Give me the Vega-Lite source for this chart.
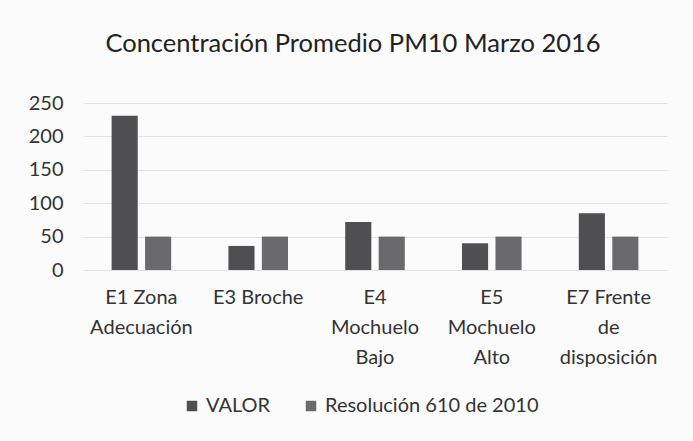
{
  "$schema": "https://vega.github.io/schema/vega-lite/v6.json",
  "autosize": {"type": "none"},
  "width": 584,
  "height": 167,
  "padding": {"left": 83, "top": 103, "right": 26, "bottom": 171},
  "background": "#fbfbfb",
  "title": {"text": "Concentración Promedio PM10 Marzo 2016", "font": "Lato", "fontSize": 25.5, "fontWeight": "normal", "color": "#222", "offset": 36, "anchor": "middle", "dx": -22},
  "data": {"values": [
    {"estacion": "E1 Zona Adecuación", "serie": "VALOR", "valor": 231},
    {"estacion": "E1 Zona Adecuación", "serie": "Resolución 610 de 2010", "valor": 50},
    {"estacion": "E3 Broche", "serie": "VALOR", "valor": 36},
    {"estacion": "E3 Broche", "serie": "Resolución 610 de 2010", "valor": 50},
    {"estacion": "E4 Mochuelo Bajo", "serie": "VALOR", "valor": 72},
    {"estacion": "E4 Mochuelo Bajo", "serie": "Resolución 610 de 2010", "valor": 50},
    {"estacion": "E5 Mochuelo Alto", "serie": "VALOR", "valor": 40},
    {"estacion": "E5 Mochuelo Alto", "serie": "Resolución 610 de 2010", "valor": 50},
    {"estacion": "E7 Frente de disposición", "serie": "VALOR", "valor": 85},
    {"estacion": "E7 Frente de disposición", "serie": "Resolución 610 de 2010", "valor": 50}
  ]},
  "mark": {"type": "bar"},
  "encoding": {
    "x": {"field": "estacion", "type": "nominal", "sort": null,
      "scale": {"paddingInner": 0.49, "paddingOuter": 0.245},
      "axis": {"title": null, "labelAngle": 0, "domain": false, "ticks": false, "labelFont": "Lato", "labelFontSize": 20, "labelColor": "#333", "labelPadding": 17, "labelLineHeight": 30, "labelBaseline": "top", "labelLimit": 200,
        "labelExpr": "datum.label == 'E1 Zona Adecuación' ? ['E1 Zona','Adecuación'] : datum.label == 'E4 Mochuelo Bajo' ? ['E4','Mochuelo','Bajo'] : datum.label == 'E5 Mochuelo Alto' ? ['E5','Mochuelo','Alto'] : datum.label == 'E7 Frente de disposición' ? ['E7 Frente','de','disposición'] : datum.label"}},
    "xOffset": {"field": "serie", "type": "nominal", "sort": ["VALOR", "Resolución 610 de 2010"], "scale": {"paddingInner": 0.22, "paddingOuter": 0}},
    "y": {"field": "valor", "type": "quantitative",
      "scale": {"domain": [0, 250], "nice": false},
      "axis": {"title": null, "values": [0, 50, 100, 150, 200, 250], "domain": false, "ticks": false, "gridColor": "#e2e2e2", "labelFont": "Lato", "labelFontSize": 20, "labelColor": "#333", "labelPadding": 20}},
    "color": {"field": "serie", "type": "nominal", "sort": ["VALOR", "Resolución 610 de 2010"],
      "scale": {"range": ["#4f4f52", "#6a6a6c"]},
      "legend": {"title": null, "orient": "none", "legendX": 99, "legendY": 293, "direction": "horizontal", "labelFont": "Lato", "labelFontSize": 20, "labelColor": "#333", "labelLimit": 300, "symbolType": "square", "symbolSize": 110, "columnPadding": 30, "labelOffset": 4}}
  },
  "config": {"view": {"stroke": null}}
}
